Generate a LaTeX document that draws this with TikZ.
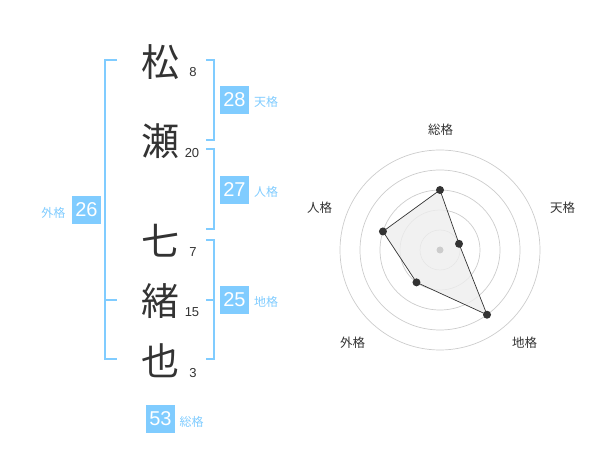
\documentclass[tikz,border=0pt]{standalone}
\usepackage{fontspec}
\setmainfont{Liberation Sans}
\newfontfamily\jp{Noto Sans CJK JP}
\usetikzlibrary{calc}
\definecolor{kblue}{RGB}{128,204,255}
\definecolor{ktext}{RGB}{51,51,51}
\definecolor{kgrid}{RGB}{204,204,204}
\definecolor{kfill}{RGB}{238,238,238}
\tikzset{
  kanji/.style={font=\jp\fontsize{38}{38}\selectfont, text=ktext, inner sep=0pt},
  strokes/.style={font=\fontsize{13}{13}\selectfont, text=ktext, inner sep=0pt},
  bracket/.style={draw=kblue, line width=2pt},
  valbox/.style={fill=kblue, text=white, minimum width=29pt, minimum height=28pt, inner sep=0pt, font=\fontsize{20}{20}\selectfont},
  kaku/.style={text=kblue, inner sep=0pt, font=\jp\fontsize{12}{12}\selectfont},
  axislabel/.style={text=ktext, inner sep=0pt, font=\jp\fontsize{12.5}{12.5}\selectfont},
  ring/.style={draw=kgrid, line width=0.7pt},
  vdot/.style={circle, fill=ktext, minimum size=8pt, inner sep=0pt},
}
\begin{document}
\begin{tikzpicture}[x=1pt,y=-1pt]
\useasboundingbox (0,0) rectangle (600,470);
% characters
\node[kanji] (c1) at (160,62) {松};
\node[kanji] (c2) at (160,141) {瀬};
\node[kanji] (c3) at (160,241) {七};
\node[kanji] (c4) at (160,301) {緒};
\node[kanji] (c5) at (160,361) {也};
\node[strokes] (n1) at (193,72) {8};
\node[strokes] (n2) at (192,153) {20};
\node[strokes] (n3) at (193,252) {7};
\node[strokes] (n4) at (192,312) {15};
\node[strokes] (n5) at (193,373) {3};
% bracket coordinates
\coordinate (gT) at (117,60); \coordinate (gM) at (117,300); \coordinate (gB) at (117,359);
\coordinate (gTv) at (105,60); \coordinate (gMv) at (105,300); \coordinate (gBv) at (105,359);
\draw[bracket] (gT) -- (gTv) -- (gBv) -- (gB);
\draw[bracket] (gMv) -- (gM);
\coordinate (tT) at (206,60); \coordinate (tB) at (206,140);
\draw[bracket] (tT) -| (214,140) -- (tB);
\coordinate (jT) at (206,149); \coordinate (jB) at (206,229);
\draw[bracket] (jT) -| (214,229) -- (jB);
\coordinate (cT) at (206,240); \coordinate (cB) at (206,359); \coordinate (cM) at (206,300);
\draw[bracket] (cT) -| (214,359) -- (cB);
\draw[bracket] (cM) -- (214,300);
% value boxes
\node[valbox] (b28) at (234.5,100) {28};
\node[kaku] (l28) at (266,102) {天格};
\node[valbox] (b27) at (234.5,190) {27};
\node[kaku] (l27) at (266,192) {人格};
\node[valbox] (b25) at (234.5,300) {25};
\node[kaku] (l25) at (266,302) {地格};
\node[valbox] (b26) at (86.5,210) {26};
\node[kaku] (l26) at (53.5,213) {外格};
\node[valbox] (b53) at (160.5,419) {53};
\node[kaku] (l53) at (191.5,422) {総格};
% radar chart
\begin{scope}[shift={(440,250)}]
  \coordinate (c) at (0,0);
  \foreach \r in {20,40,60,80,100} { \draw[ring] (c) circle[radius=\r pt]; }
  \coordinate (p1) at (90:60pt);
  \coordinate (p2) at (18:20pt);
  \coordinate (p3) at (-54:80pt);
  \coordinate (p4) at (-126:40pt);
  \coordinate (p5) at (162:60pt);
  \fill[kfill, fill opacity=0.8] (p1) -- (p2) -- (p3) -- (p4) -- (p5) -- cycle;
  \fill[kgrid] (c) circle[radius=3.5pt];
  \draw[ktext, line width=0.7pt] (p1) -- (p2) -- (p3) -- (p4) -- (p5) -- cycle;
  \foreach \p in {p1,p2,p3,p4,p5} { \node[vdot] at (\p) {}; }
\end{scope}
\node[axislabel] (a1) at (440.5,130) {総格};
\node[axislabel] (a2) at (562.5,208) {天格};
\node[axislabel] (a3) at (524.5,342.5) {地格};
\node[axislabel] (a4) at (352.5,342.5) {外格};
\node[axislabel] (a5) at (319.5,208) {人格};
\end{tikzpicture}
\end{document}
